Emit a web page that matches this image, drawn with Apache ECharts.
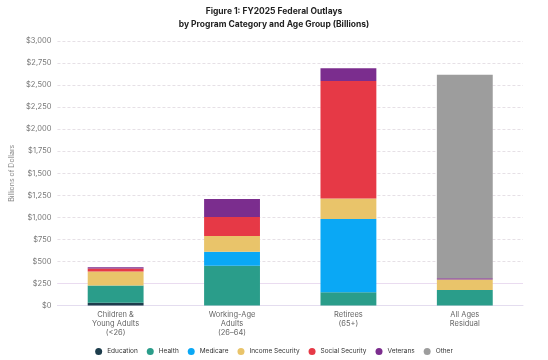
<!DOCTYPE html>
<html><head><meta charset="utf-8">
<script src="https://cdn.jsdelivr.net/npm/echarts@6/dist/echarts.min.js"></script>
<style>html,body{margin:0;padding:0;background:#fff}#c{width:548px;height:360px}</style>
</head><body><div id="c"></div>
<script>
const categories = ["Children &\nYoung Adults\n(<26)", "Working-Age\nAdults\n(26–64)", "Retirees\n(65+)", "All Ages\nResidual"];
const education = [30, 0, 0, 0];
const health = [197, 451, 150, 176];
const medicare = [0, 159, 830, 0];
const incomeSecurity = [160, 178, 235, 120];
const socialSecurity = [34, 215, 1330, 0];
const veterans = [14, 204, 145, 14];
const other = [0, 0, 0, 2308];
const seriesNames = ["Education", "Health", "Medicare", "Income Security", "Social Security", "Veterans", "Other"];
const seriesData = [education, health, medicare, incomeSecurity, socialSecurity, veterans, other];
const colors = ["#1d3d4c", "#2a9d8a", "#0aa8f5", "#e9c46a", "#e63946", "#7b2d8e", "#9d9d9d"];

const chart = echarts.init(document.getElementById('c'), null, {renderer: 'canvas'});
const FONT = 'Inter, "Noto Sans", sans-serif';
const series = seriesNames.map((n, i) => ({
  name: n, type: 'bar', stack: 'total', data: seriesData[i], barWidth: '48%', z: 3,
  itemStyle: {color: colors[i]}
}));
series.push({
  name: 'ref', type: 'line', data: [], z: 1, silent: true,
  markLine: {silent: true, symbol: 'none', label: {show: false}, z: 1,
    lineStyle: {color: '#eadcf0', type: 'solid', width: 1}, data: [{yAxis: 250}]}
});
chart.setOption({
  animation: false,
  color: colors,
  title: {
    text: 'Figure 1: FY2025 Federal Outlays\nby Program Category and Age Group (Billions)',
    left: 'center', top: 0,
    textStyle: {fontFamily: FONT, fontSize: 8.5, fontWeight: 'bold', color: '#222', lineHeight: 13}
  },
  legend: {
    top: 343, left: 'center', icon: 'circle', itemWidth: 7, itemHeight: 7, itemGap: 9,
    textStyle: {fontFamily: FONT, fontSize: 6.5, color: '#333'},
    data: seriesNames
  },
  grid: {left: 54, right: 25, top: 41, bottom: 54.5, containLabel: false},
  xAxis: {
    type: 'category', data: categories,
    axisLine: {show: true, lineStyle: {color: '#e4ddef', width: 1}},
    axisTick: {show: false},
    axisLabel: {fontFamily: FONT, fontSize: 7.5, color: '#666', lineHeight: 9, margin: 5, interval: 0}
  },
  yAxis: {
    type: 'value', min: 0, max: 3000, interval: 250,
    name: 'Billions of Dollars', nameLocation: 'middle', nameGap: 38, nameRotate: 90,
    nameTextStyle: {fontFamily: FONT, fontSize: 7, color: '#888'},
    axisLine: {show: false}, axisTick: {show: false},
    axisLabel: {fontFamily: FONT, fontSize: 7.5, color: '#777', margin: 6,
      formatter: v => '$' + v.toLocaleString('en-US')},
    splitLine: {lineStyle: {color: '#e6e0e6', type: [3, 2], width: 1}}
  },
  series: series
});
</script></body></html>
